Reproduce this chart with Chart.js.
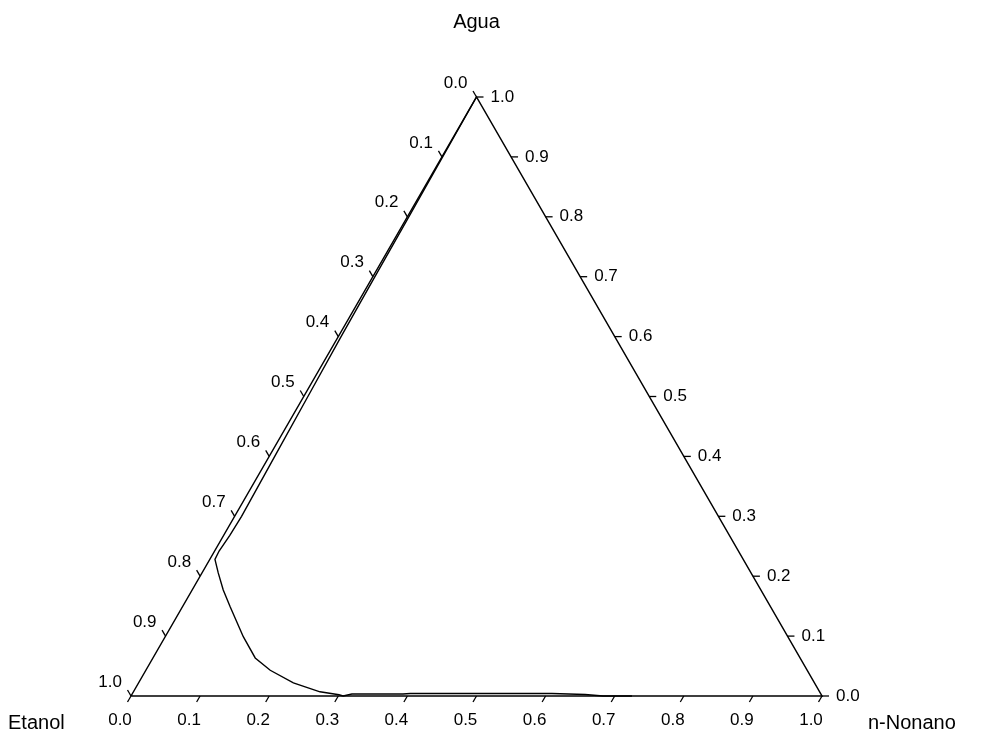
<!DOCTYPE html>
<html>
<head>
<meta charset="utf-8">
<script src="https://cdn.jsdelivr.net/npm/chart.js@4.4.1/dist/chart.umd.min.js"></script>
<style>
    body { margin: 0; background: #fff; }
    #wrap { width: 990px; height: 740px; }
</style>
</head>
<body>
<div id="wrap"><canvas id="ternary" width="990" height="740"></canvas></div>
<script>
// Component names (vertices)
const compTop = 'Agua';
const compLeft = 'Etanol';
const compRight = 'n-Nonano';

// Axis ticks (mass fractions)
const tickValues = [0, 0.1, 0.2, 0.3, 0.4, 0.5, 0.6, 0.7, 0.8, 0.9, 1.0];
const tickLabels = ['0.0', '0.1', '0.2', '0.3', '0.4', '0.5', '0.6', '0.7', '0.8', '0.9', '1.0'];

// Binodal curve: fraction of n-Nonano and of Agua
const curveNonano = [0.000, 0.001, 0.002, 0.003, 0.004, 0.006, 0.008, 0.010, 0.009, 0.0065, 0.0075, 0.0235, 0.045, 0.069, 0.113, 0.148, 0.180, 0.224, 0.270, 0.300, 0.307, 0.318, 0.392, 0.402, 0.607, 0.656, 0.683, 0.725];
const curveAgua   = [1.000, 0.900, 0.800, 0.700, 0.600, 0.500, 0.400, 0.300, 0.268, 0.242, 0.228, 0.2055, 0.177, 0.149, 0.099, 0.0635, 0.043, 0.022, 0.007, 0.002, 0.000, 0.0033, 0.0033, 0.0042, 0.0042, 0.0025, 0.000, 0.000];

const H = Math.sqrt(3) / 2;

// ternary (nonano, agua) -> cartesian
function toXY(n, a) {
    return { x: n + a / 2, y: a * H };
}

const triangle = [toXY(0, 0), toXY(1, 0), toXY(0, 1), toXY(0, 0)];
const curve = curveNonano.map((n, i) => toXY(n, curveAgua[i]));

const FONT = '"Liberation Sans", Arial, sans-serif';

const ternaryAxes = {
    id: 'ternaryAxes',
    afterDatasetsDraw(chart) {
        const ctx = chart.ctx;
        const sx = chart.scales.x;
        const sy = chart.scales.y;
        function px(n, a) {
            const p = toXY(n, a);
            return [sx.getPixelForValue(p.x), sy.getPixelForValue(p.y)];
        }
        function seg(x1, y1, x2, y2) {
            ctx.beginPath();
            ctx.moveTo(x1, y1);
            ctx.lineTo(x2, y2);
            ctx.stroke();
        }
        ctx.save();
        ctx.strokeStyle = '#000';
        ctx.fillStyle = '#000';
        ctx.lineWidth = 1.3;
        ctx.font = '17px ' + FONT;

        tickValues.forEach((v, i) => {
            // bottom axis: n-Nonano
            let [bx, by] = px(v, 0);
            seg(bx, by, bx - 3.5, by + 6);
            ctx.textAlign = 'center';
            ctx.textBaseline = 'middle';
            ctx.fillText(tickLabels[i], bx - 11, by + 24);

            // right axis: Agua
            let [rx, ry] = px(1 - v, v);
            seg(rx, ry, rx + 7, ry);
            ctx.textAlign = 'left';
            ctx.fillText(tickLabels[i], rx + 14, ry);

            // left axis: Etanol
            let [lx, ly] = px(0, 1 - v);
            seg(lx, ly, lx - 3.5, ly - 6);
            ctx.textAlign = 'right';
            ctx.fillText(tickLabels[i], lx - 9, ly - 14);
        });

        ctx.font = '20px ' + FONT;
        ctx.textBaseline = 'middle';
        let [tx, ty] = px(0, 1);
        ctx.textAlign = 'center';
        ctx.fillText(compTop, tx, ty - 75);
        let [lx0, ly0] = px(0, 0);
        ctx.textAlign = 'left';
        ctx.fillText(compLeft, lx0 - 123, ly0 + 27);
        let [rx0, ry0] = px(1, 0);
        ctx.fillText(compRight, rx0 + 46, ry0 + 27);
        ctx.restore();
    }
};

const chart = new Chart(document.getElementById('ternary').getContext('2d'), {
    type: 'scatter',
    data: {
        datasets: [
            {
                label: 'triangle',
                data: triangle,
                showLine: true,
                borderColor: '#000',
                borderWidth: 1.5,
                pointRadius: 0,
                clip: false
            },
            {
                label: 'binodal',
                data: curve,
                showLine: true,
                borderColor: '#000',
                borderWidth: 1.4,
                pointRadius: 0,
                tension: 0,
                clip: false
            }
        ]
    },
    options: {
        responsive: false,
        animation: false,
        layout: { padding: { left: 131, right: 168, top: 97, bottom: 44 } },
        plugins: {
            legend: { display: false },
            tooltip: { enabled: false }
        },
        scales: {
            x: { type: 'linear', display: false, min: 0, max: 1 },
            y: { type: 'linear', display: false, min: 0, max: H }
        }
    },
    plugins: [ternaryAxes]
});
</script>
</body>
</html>
